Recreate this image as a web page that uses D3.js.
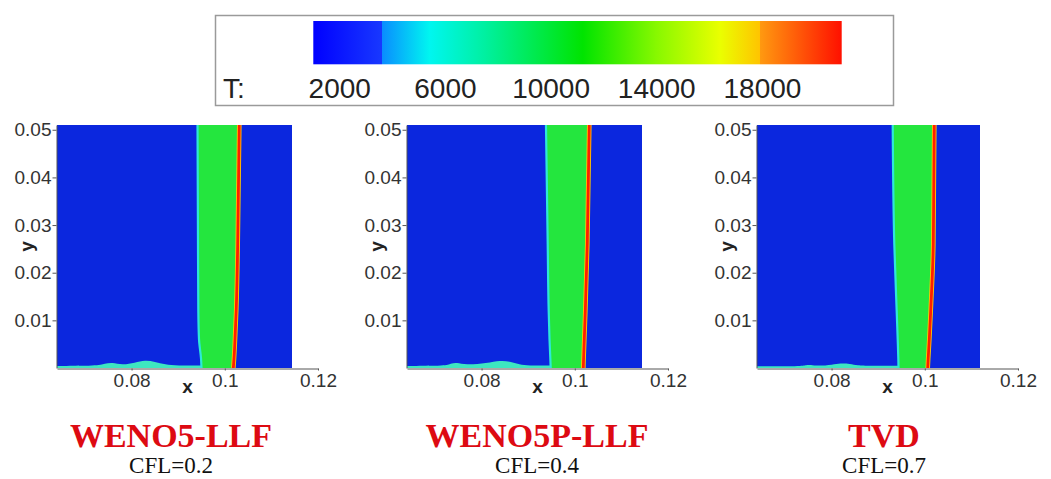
<!DOCTYPE html>
<html><head><meta charset="utf-8">
<script src="https://cdn.jsdelivr.net/npm/d3@7"></script>
<style>body{margin:0;background:#fff} svg{display:block}</style>
</head><body>
<svg id="c" width="1051" height="479"></svg>
<script>
// ---------------- data ----------------
const colorbarDomain = [1000, 21000];
const colorbarTicks = [2000, 6000, 10000, 14000, 18000];
const colorStopT = [1000, 3590, 3590, 5400, 7500, 11200, 14000, 16400, 17900, 17900, 21000];
const colorStopC = ["#0000ff","#1838ff","#0a8cff","#00f6f0","#00f0a0","#00e400","#88f800","#eaff00","#ffc400","#ff9a10","#ff1000"];

const xDomain = [0.064, 0.12];
const yDomain = [0, 0.051];
const xTicks = [0.08, 0.1, 0.12];
const xTickLabels = ["0.08", "0.1", "0.12"];
const yTicks = [0.01, 0.02, 0.03, 0.04, 0.05];
const yTickLabels = ["0.01", "0.02", "0.03", "0.04", "0.05"];

const schemes = ["WENO5-LLF", "WENO5P-LLF", "TVD"];
const cflLabels = ["CFL=0.2", "CFL=0.4", "CFL=0.7"];
const domainEnd = [0.11442, 0.11442, 0.11185];

// front positions (x) at these heights (y)
const frontY = [0, 0.002, 0.006, 0.012, 0.026, 0.051];
const contactX1 = [0.09500, 0.09490, 0.09447, 0.09432, 0.09425, 0.09415];
const shockX1   = [0.10183, 0.10198, 0.10219, 0.10245, 0.10277, 0.10311];
const contactX2 = [0.09483, 0.09475, 0.09458, 0.09440, 0.09419, 0.09382];
const shockX2   = [0.10183, 0.10189, 0.10204, 0.10226, 0.10268, 0.10311];
const contactX3 = [0.09436, 0.09432, 0.09419, 0.09397, 0.09346, 0.09312];
const shockX3   = [0.10063, 0.10073, 0.10097, 0.10127, 0.10183, 0.10204];

// wall layer thickness along x
const layerX1 = [0.0640, 0.0726, 0.0743, 0.0758, 0.0780, 0.0807, 0.0829, 0.0850, 0.0872, 0.0898, 0.0950];
const layerH1 = [0.00042, 0.00042, 0.00090, 0.00120, 0.00060, 0.00110, 0.00168, 0.00130, 0.00070, 0.00050, 0.00050];
const layerX2 = [0.0640, 0.0725, 0.0733, 0.0747, 0.0765, 0.0812, 0.0840, 0.0860, 0.0882, 0.0900, 0.0948];
const layerH2 = [0.00042, 0.00042, 0.00090, 0.00120, 0.00060, 0.00100, 0.00160, 0.00140, 0.00070, 0.00050, 0.00050];
const layerX3 = [0.0640, 0.0735, 0.0745, 0.0755, 0.0770, 0.0803, 0.0818, 0.0840, 0.0855, 0.0880, 0.0944];
const layerH3 = [0.00035, 0.00035, 0.00060, 0.00070, 0.00040, 0.00070, 0.00100, 0.00090, 0.00050, 0.00045, 0.00045];

// ---------------- layout / style ----------------
const svg = d3.select("#c");
const sans = "'Liberation Sans', Arial, sans-serif";
const serif = "'Liberation Serif', 'Times New Roman', serif";
const panelLeft = [57, 407, 757];
const panelTop = 125, panelW = 261, panelH = 243;
const titleX = [171, 537, 884];
const blueFill = "#0b27de", greenFill = "#24e63e", cyanEdge = "#2ee8d8",
      layerFill = "#3ee6c0", redLine = "#ff1e00", yellowEdge = "#ffc800";

// ---------------- colorbar ----------------
const cb = d3.scaleLinear().domain(colorbarDomain).range([313.3, 841.7]);
const defs = svg.append("defs");
const grad = defs.append("linearGradient").attr("id", "cbg")
  .attr("x1", "0%").attr("x2", "100%").attr("y1", "0%").attr("y2", "0%");
const tOff = d3.scaleLinear().domain(colorbarDomain).range([0, 100]);
colorStopT.forEach((t, i) => {
  grad.append("stop").attr("offset", tOff(t) + "%").attr("stop-color", colorStopC[i]);
});
svg.append("rect").attr("x", 215.5).attr("y", 15.5).attr("width", 678).attr("height", 90)
  .attr("fill", "#fff").attr("stroke", "#9a9a9a").attr("stroke-width", 1.5);
svg.append("rect").attr("x", cb(colorbarDomain[0])).attr("y", 21)
  .attr("width", cb(colorbarDomain[1]) - cb(colorbarDomain[0])).attr("height", 43.3)
  .attr("fill", "url(#cbg)");
svg.append("text").attr("x", 223).attr("y", 98).text("T:")
  .attr("font-family", sans).attr("font-size", 28).attr("fill", "#222");
svg.selectAll("text.cbt").data(colorbarTicks).enter().append("text").attr("class", "cbt")
  .attr("x", d => cb(d)).attr("y", 98).attr("text-anchor", "middle")
  .attr("font-family", sans).attr("font-size", 28).attr("fill", "#222").text(d => d);

// ---------------- panels ----------------
const contacts = [contactX1, contactX2, contactX3];
const shocks = [shockX1, shockX2, shockX3];
const layersX = [layerX1, layerX2, layerX3];
const layersH = [layerH1, layerH2, layerH3];

schemes.forEach((name, p) => {
  const g = svg.append("g");
  const x = d3.scaleLinear().domain(xDomain).range([panelLeft[p], panelLeft[p] + panelW]);
  const y = d3.scaleLinear().domain(yDomain).range([panelTop + panelH, panelTop]);

  const clipId = "clip" + p;
  defs.append("clipPath").attr("id", clipId).append("rect")
    .attr("x", x(xDomain[0])).attr("y", y(yDomain[1]))
    .attr("width", x(domainEnd[p]) - x(xDomain[0])).attr("height", y(yDomain[0]) - y(yDomain[1]));
  const pg = g.append("g").attr("clip-path", `url(#${clipId})`);

  pg.append("rect").attr("x", x(xDomain[0])).attr("y", y(yDomain[1]))
    .attr("width", x(domainEnd[p]) - x(xDomain[0])).attr("height", y(yDomain[0]) - y(yDomain[1]))
    .attr("fill", blueFill);

  const pts = frontY.map((yy, i) => ({ y: yy, c: contacts[p][i], s: shocks[p][i] }));

  // wall layer
  const lay = layersX[p].map((xx, i) => ({ x: xx, h: layersH[p][i] }));
  pg.append("path").datum(lay)
    .attr("d", d3.area().x(d => x(d.x)).y0(y(0)).y1(d => y(d.h)).curve(d3.curveBasis))
    .attr("fill", layerFill);

  // heated region between contact and shock
  pg.append("path").datum(pts)
    .attr("d", d3.area().y(d => y(d.y)).x0(d => x(d.c)).x1(d => x(d.s)).curve(d3.curveMonotoneY))
    .attr("fill", greenFill);
  pg.append("path").datum(pts)
    .attr("d", d3.line().y(d => y(d.y)).x(d => x(d.c)).curve(d3.curveMonotoneY))
    .attr("fill", "none").attr("stroke", cyanEdge).attr("stroke-width", 2.2);
  // shock
  pg.append("path").datum(pts)
    .attr("d", d3.line().y(d => y(d.y)).x(d => x(d.s)).curve(d3.curveMonotoneY))
    .attr("fill", "none").attr("stroke", yellowEdge).attr("stroke-width", 4.6);
  pg.append("path").datum(pts)
    .attr("d", d3.line().y(d => y(d.y)).x(d => x(d.s)).curve(d3.curveMonotoneY))
    .attr("fill", "none").attr("stroke", redLine).attr("stroke-width", 2.8);

  // axes
  const ax = g.append("g").attr("transform", `translate(0,${y(0) + 0.5})`)
    .call(d3.axisBottom(x).tickValues(xTicks).tickFormat((d, i) => xTickLabels[i])
      .tickSizeInner(2).tickSizeOuter(0).tickPadding(3));
  const ay = g.append("g").attr("transform", `translate(${x(xDomain[0]) - 0.5},0)`)
    .call(d3.axisLeft(y).tickValues(yTicks).tickFormat((d, i) => yTickLabels[i])
      .tickSizeInner(4).tickSizeOuter(0).tickPadding(1));
  [ax, ay].forEach(a => {
    a.select(".domain").attr("stroke", "#555").attr("stroke-width", 1);
    a.selectAll(".tick line").attr("stroke", "#555");
    a.selectAll(".tick text").attr("font-family", sans).attr("font-size", 19).attr("fill", "#333");
  });

  g.append("text").attr("x", (x.range()[0] + x.range()[1]) / 2).attr("y", y(0) + 25)
    .attr("text-anchor", "middle").attr("font-family", sans).attr("font-weight", "bold")
    .attr("font-size", 19).attr("fill", "#222").text("x");
  g.append("text")
    .attr("transform", `translate(${panelLeft[p] - 24},${(y.range()[0] + y.range()[1]) / 2}) rotate(-90)`)
    .attr("text-anchor", "middle").attr("font-family", sans).attr("font-weight", "bold")
    .attr("font-size", 19).attr("fill", "#222").text("y");

  // titles
  svg.append("text").attr("x", titleX[p]).attr("y", 447).attr("text-anchor", "middle")
    .attr("font-family", serif).attr("font-weight", "bold").attr("font-size", 34)
    .attr("fill", "#dd0a12").text(name);
  svg.append("text").attr("x", titleX[p]).attr("y", 473).attr("text-anchor", "middle")
    .attr("font-family", serif).attr("font-size", 23).attr("fill", "#111").text(cflLabels[p]);
});
</script>
</body></html>
